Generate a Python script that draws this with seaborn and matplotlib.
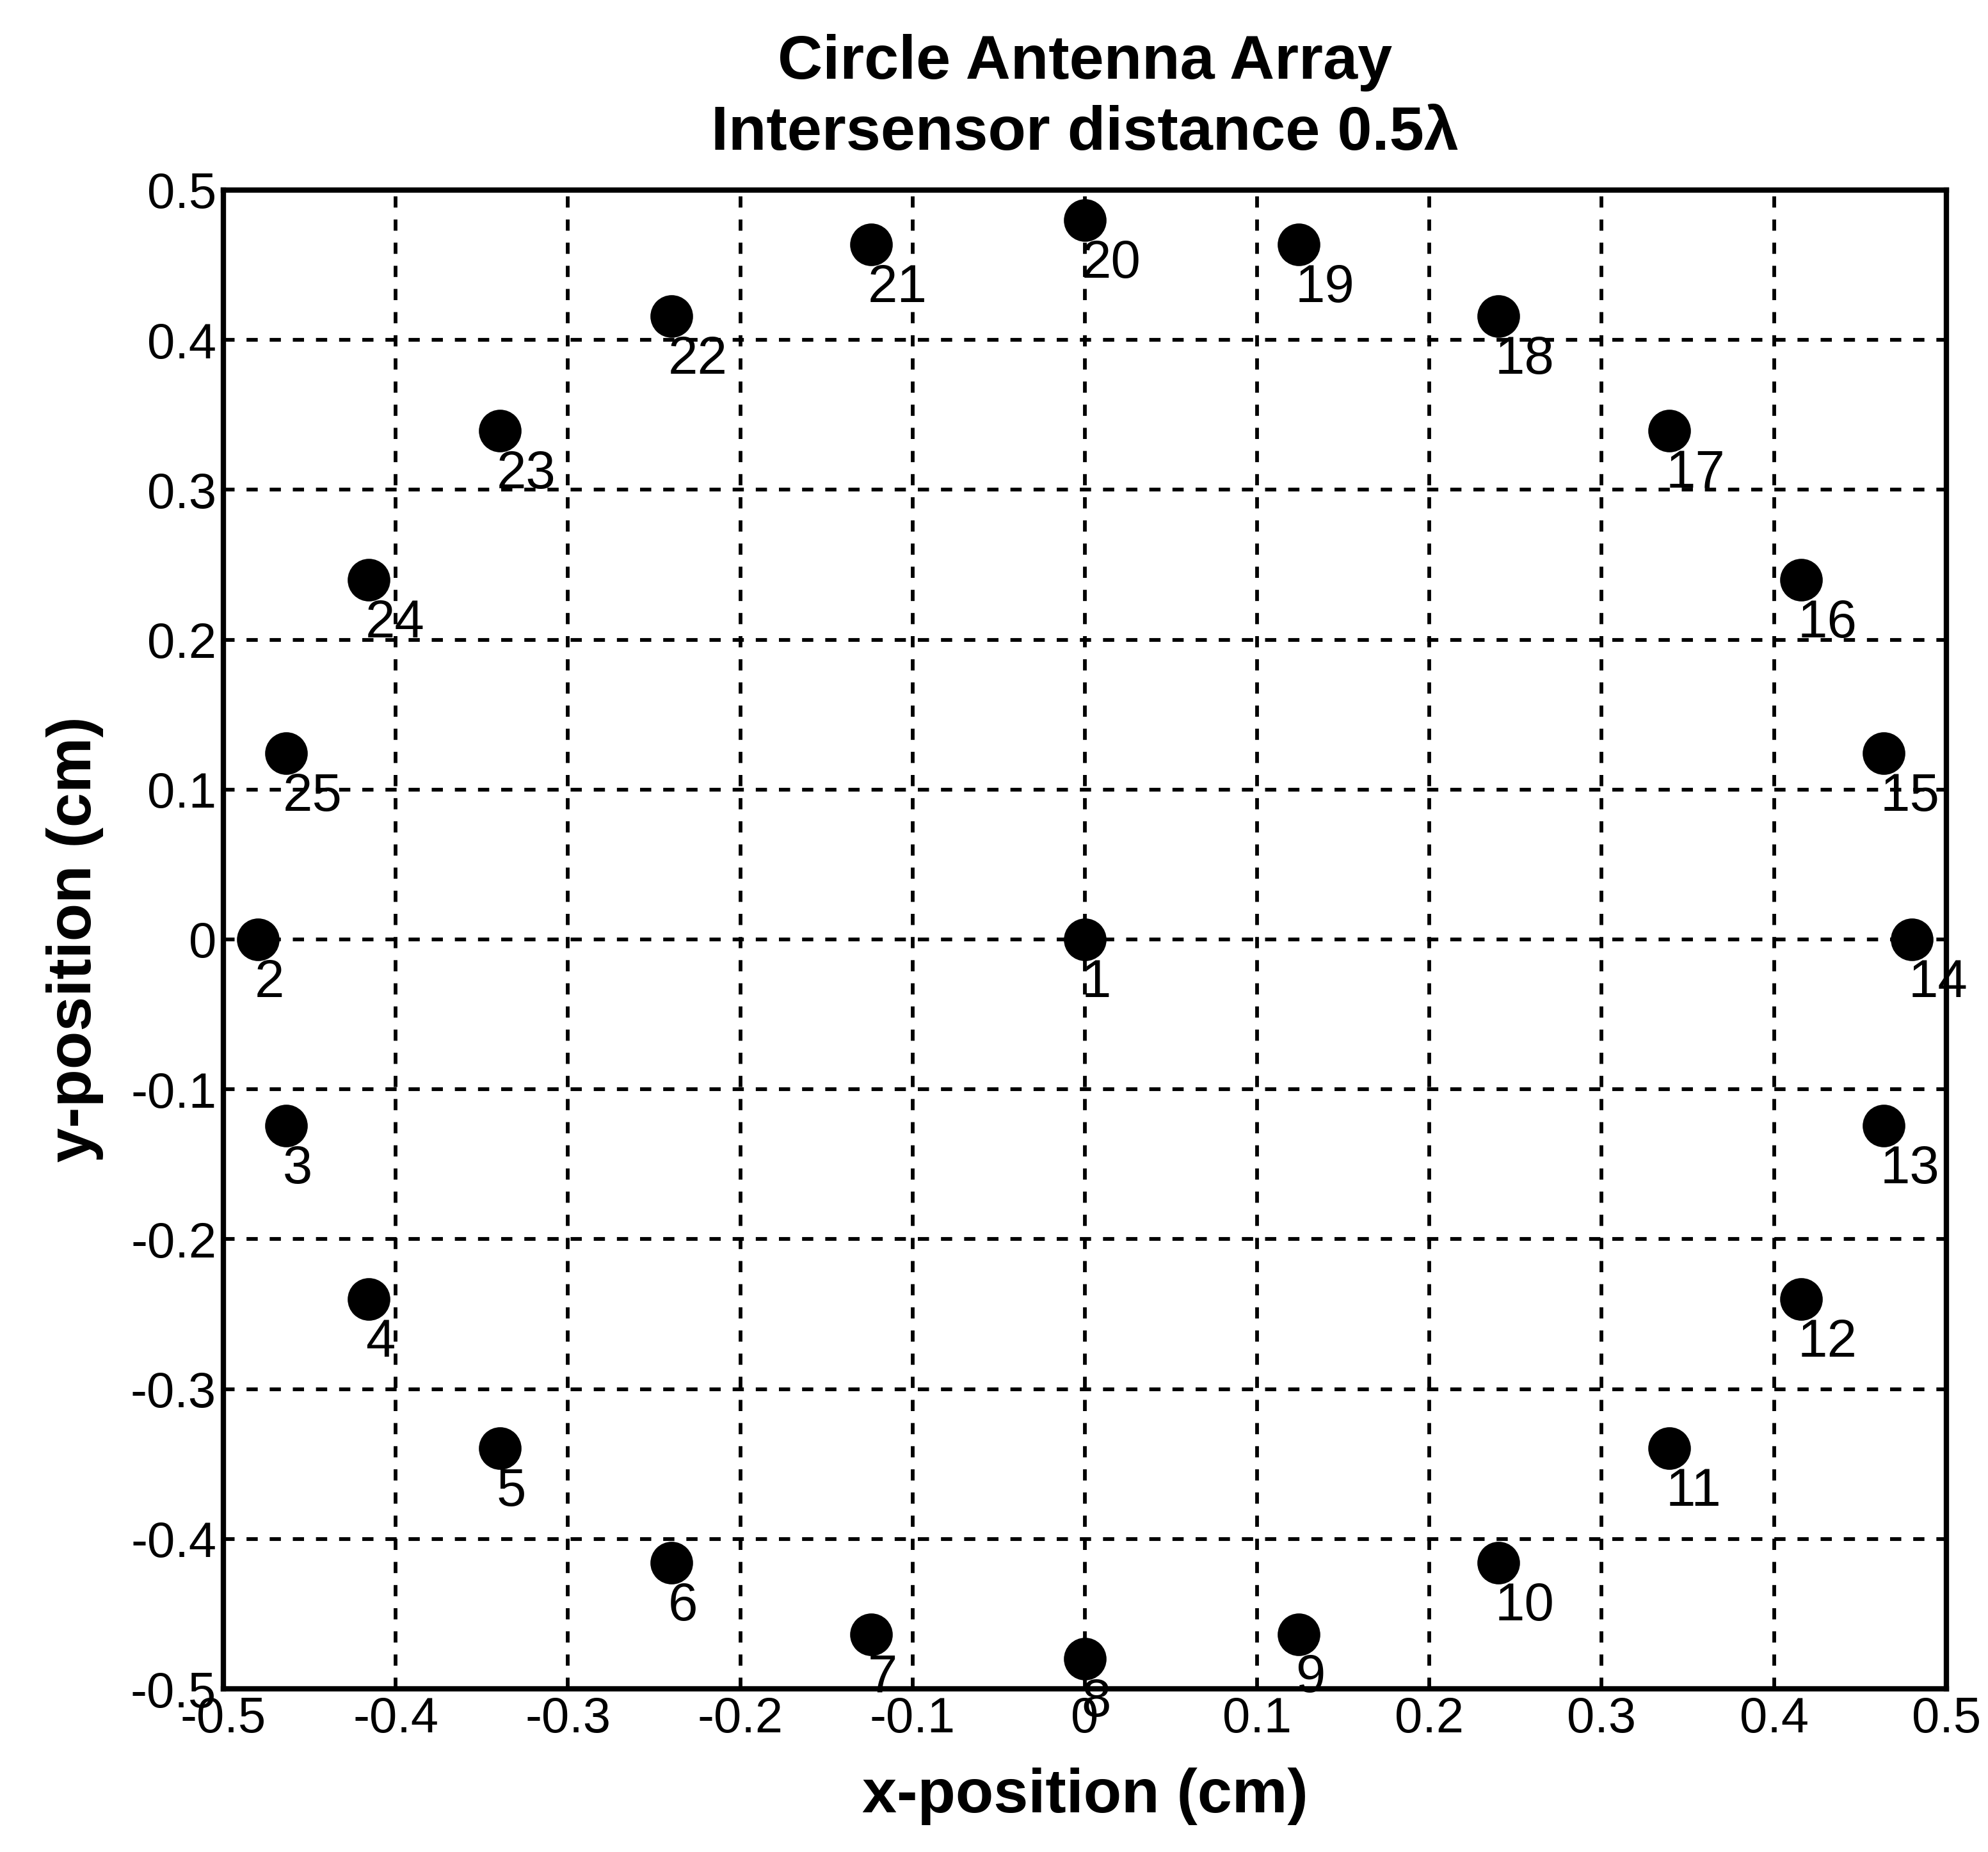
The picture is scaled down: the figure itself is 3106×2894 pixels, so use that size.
import matplotlib
matplotlib.use("Agg")
import matplotlib.pyplot as plt
from matplotlib import font_manager
import seaborn as sns
import pandas as pd

# Sensor positions of the circular array (element 1 at the centre)
sensor_ids = list(range(1, 26))
x_pos = [0.0, -0.48, -0.4636, -0.4157, -0.3394, -0.24, -0.1242, 0.0, 0.1242,
         0.24, 0.3394, 0.4157, 0.4636, 0.48, 0.4636, 0.4157, 0.3394, 0.24,
         0.1242, 0.0, -0.1242, -0.24, -0.3394, -0.4157, -0.4636]
y_pos = [0.0, 0.0, -0.1242, -0.24, -0.3394, -0.4157, -0.4636, -0.48, -0.4636,
         -0.4157, -0.3394, -0.24, -0.1242, 0.0, 0.1242, 0.24, 0.3394, 0.4157,
         0.4636, 0.48, 0.4636, 0.4157, 0.3394, 0.24, 0.1242]

tick_values = [-0.5, -0.4, -0.3, -0.2, -0.1, 0.0, 0.1, 0.2, 0.3, 0.4, 0.5]
tick_labels = ["-0.5", "-0.4", "-0.3", "-0.2", "-0.1", "0",
               "0.1", "0.2", "0.3", "0.4", "0.5"]

df = pd.DataFrame({"x": x_pos, "y": y_pos, "id": sensor_ids})

sns.set_style("white")
plt.rcParams["font.family"] = ["Liberation Sans", "DejaVu Sans"]
plt.rcParams["text.color"] = "black"
plt.rcParams["axes.labelcolor"] = "black"

installed = {f.name for f in font_manager.fontManager.ttflist}
label_family = ["Liberation Sans Narrow"] if "Liberation Sans Narrow" in installed else ["Liberation Sans"]

fig = plt.figure(figsize=(31.06, 28.94), dpi=100)
ax = fig.add_axes([0.1124, 0.0881, 0.8666, 0.8093])

ax.set_xlim(-0.5, 0.5)
ax.set_ylim(-0.5, 0.5)
ax.set_xticks(tick_values)
ax.set_yticks(tick_values)
ax.set_xticklabels(tick_labels)
ax.set_yticklabels(tick_labels)

ax.grid(True, color="black", linestyle=(0, (3.0, 3.2)), linewidth=4.2)
ax.set_axisbelow(True)

sns.scatterplot(data=df, x="x", y="y", color="black", edgecolor="black",
                s=2300, linewidth=0, ax=ax, zorder=3, clip_on=False)

for sid, xv, yv in zip(sensor_ids, x_pos, y_pos):
    ax.text(xv - 0.002, yv - 0.029, str(sid), fontsize=60, family=label_family,
            ha="left", va="center", color="black", clip_on=False, zorder=4)

for side in ax.spines.values():
    side.set_visible(True)
    side.set_color("black")
    side.set_linewidth(6)

ax.tick_params(axis="both", direction="in", length=10, width=3,
               labelsize=56, pad=8, colors="black")

ax.set_xlabel("x-position (cm)", fontsize=70, fontweight="bold", labelpad=28,
              color="black")
ax.set_ylabel("y-position (cm)", fontsize=70, fontweight="bold", labelpad=30,
              color="black")
ax.set_title("Circle Antenna Array\nIntersensor distance 0.5\u03bb",
             fontsize=70, fontweight="bold", pad=45, linespacing=1.3,
             color="black")

fig.savefig("out.png", dpi=100, facecolor="white")
